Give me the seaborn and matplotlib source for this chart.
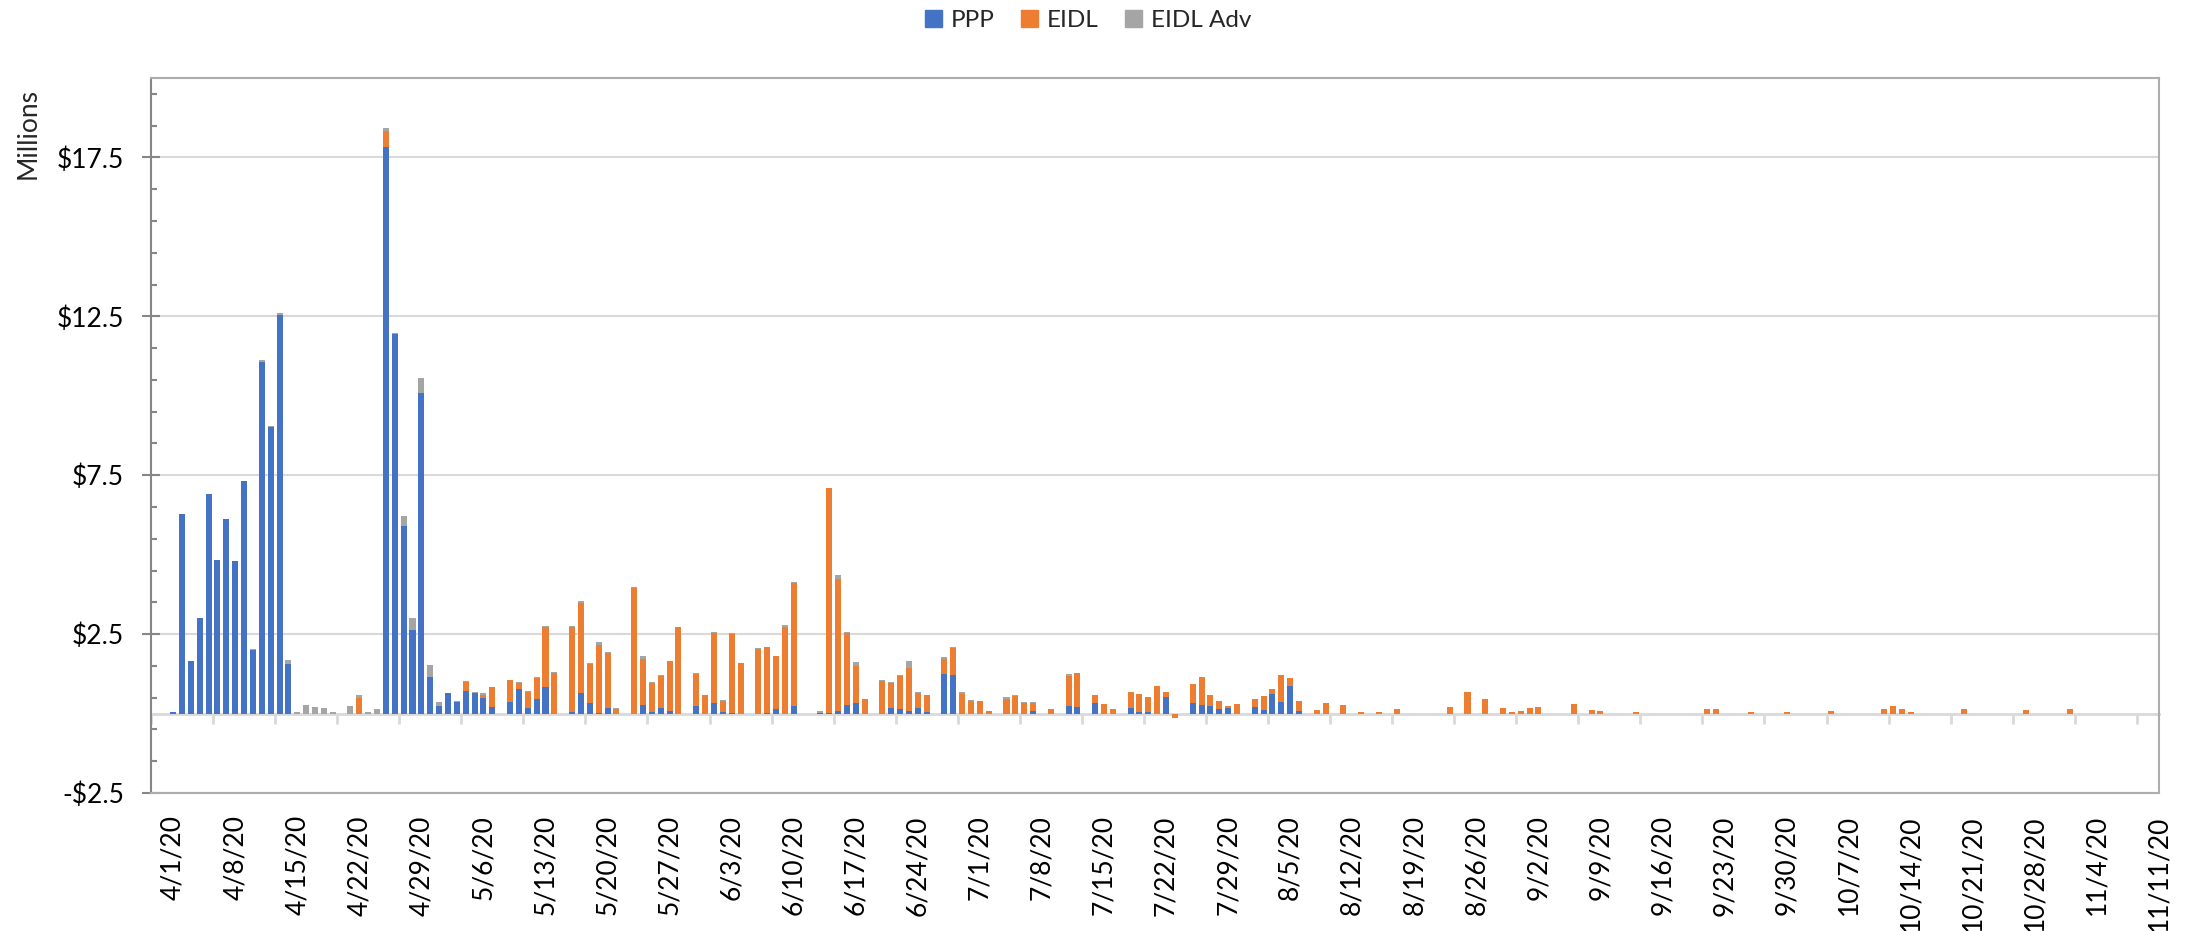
import matplotlib
matplotlib.use("Agg")

import matplotlib.pyplot as plt
from matplotlib.patches import Patch
from matplotlib.ticker import FixedLocator, FuncFormatter
import seaborn as sns

import pandas as pd
import numpy as np


# Daily disbursements in $ millions (days that are not listed had nothing)
dates = ["4/1", "4/2", "4/3", "4/4", "4/5", "4/6", "4/7", "4/8", "4/9", "4/10",
         "4/11", "4/12", "4/13", "4/14", "4/15", "4/16", "4/17", "4/18", "4/19", "4/21",
         "4/22", "4/23", "4/24", "4/25", "4/26", "4/27", "4/28", "4/29", "4/30", "5/1",
         "5/2", "5/3", "5/4", "5/5", "5/6", "5/7", "5/9", "5/10", "5/11", "5/12",
         "5/13", "5/14", "5/16", "5/17", "5/18", "5/19", "5/20", "5/21", "5/23", "5/24",
         "5/25", "5/26", "5/27", "5/28", "5/30", "5/31", "6/1", "6/2", "6/3", "6/4",
         "6/6", "6/7", "6/8", "6/9", "6/10", "6/13", "6/14", "6/15", "6/16", "6/17",
         "6/18", "6/20", "6/21", "6/22", "6/23", "6/24", "6/25", "6/27", "6/28", "6/29",
         "6/30", "7/1", "7/2", "7/4", "7/5", "7/6", "7/7", "7/9", "7/11", "7/12",
         "7/14", "7/15", "7/16", "7/18", "7/19", "7/20", "7/21", "7/22", "7/23", "7/25",
         "7/26", "7/27", "7/28", "7/29", "7/30", "8/1", "8/2", "8/3", "8/4", "8/5",
         "8/6", "8/8", "8/9", "8/11", "8/13", "8/15", "8/17", "8/23", "8/25", "8/27",
         "8/29", "8/30", "8/31", "9/1", "9/2", "9/6", "9/8", "9/9", "9/13", "9/21",
         "9/22", "9/26", "9/30", "10/5", "10/11", "10/12", "10/13", "10/14", "10/20", "10/27",
         "11/1"]

ppp = [0.05, 6.27, 1.67, 3.00, 6.92, 4.82, 6.11, 4.80, 7.33, 2.01,
       11.06, 9.02, 12.53, 1.55, 0, 0, 0, 0, 0, 0,
       0, 0, 0, 17.82, 11.93, 5.89, 2.64, 10.09, 1.14, 0.23,
       0.66, 0.36, 0.70, 0.64, 0.49, 0.20, 0.38, 0.77, 0.17, 0.45,
       0.83, 0, 0.06, 0.66, 0.32, 0.03, 0.16, 0, 0, 0.28,
       0.06, 0.16, 0.09, 0, 0.25, 0, 0.32, 0.06, 0.03, 0,
       0, 0.03, 0.13, 0, 0.25, 0.03, 0.03, 0.09, 0.28, 0.32,
       0, 0, 0.19, 0.13, 0.09, 0.16, 0.06, 1.26, 1.21, 0,
       0, 0, 0, 0, 0, 0, 0.08, 0, 0.24, 0.21,
       0.33, 0, 0, 0.18, 0.05, 0.04, 0, 0.52, 0, 0.33,
       0.27, 0.24, 0.15, 0.18, 0, 0.21, 0.11, 0.61, 0.36, 0.86,
       0.08, 0, 0, 0, 0, 0, 0, 0, 0, 0,
       0, 0, 0, 0, 0, 0, 0, 0, 0, 0,
       0, 0, 0, 0, 0, 0, 0, 0, 0, 0,
       0]

eidl = [0, 0, 0, 0, 0, 0, 0, 0, 0, 0,
        0, 0, 0, 0, 0, 0, 0, 0, 0, 0,
        0.48, 0, 0, 0.51, 0, 0, 0, 0, 0, 0,
        0, 0, 0.28, 0, 0.10, 0.63, 0.67, 0.19, 0.51, 0.66,
        1.90, 1.28, 2.68, 2.83, 1.23, 2.14, 1.76, 0.14, 3.94, 1.45,
        0.90, 1.01, 1.55, 2.71, 0.98, 0.57, 2.23, 0.35, 2.46, 1.58,
        2.02, 2.05, 1.67, 2.71, 3.85, 0, 7.08, 4.16, 2.24, 1.19,
        0.47, 1.01, 0.76, 1.04, 1.33, 0.50, 0.51, 0.47, 0.84, 0.61,
        0.40, 0.40, 0.08, 0.46, 0.55, 0.33, 0.25, 0.15, 0.94, 1.06,
        0.25, 0.30, 0.15, 0.50, 0.56, 0.48, 0.86, 0.16, -0.14, 0.60,
        0.88, 0.34, 0.25, 0.06, 0.30, 0.25, 0.44, 0.16, 0.85, 0.25,
        0.32, 0.11, 0.33, 0.27, 0.05, 0.05, 0.15, 0.21, 0.68, 0.46,
        0.18, 0.05, 0.08, 0.18, 0.21, 0.30, 0.11, 0.08, 0.05, 0.15,
        0.15, 0.05, 0.05, 0.08, 0.15, 0.24, 0.15, 0.05, 0.15, 0.11,
        0.15]

eidl_adv = [0, 0, 0, 0, 0, 0, 0, 0, 0, 0.03,
            0.08, 0.04, 0.08, 0.14, 0.06, 0.28, 0.22, 0.19, 0.06, 0.25,
            0.11, 0.06, 0.13, 0.11, 0.06, 0.34, 0.37, 0.46, 0.38, 0.13,
            0, 0.04, 0.04, 0.04, 0.05, 0, 0, 0.04, 0.04, 0.04,
            0.04, 0.02, 0.03, 0.04, 0.04, 0.07, 0.03, 0.03, 0.03, 0.07,
            0.03, 0.03, 0, 0, 0.06, 0, 0.03, 0.03, 0.03, 0,
            0.03, 0, 0, 0.09, 0.03, 0.06, 0, 0.10, 0.06, 0.10,
            0, 0.06, 0.03, 0.03, 0.25, 0.03, 0, 0.06, 0.03, 0.07,
            0.03, 0, 0, 0.06, 0.03, 0.03, 0.03, 0, 0.06, 0,
            0, 0, 0, 0, 0, 0, 0, 0, 0, 0,
            0, 0, 0, 0, 0, 0, 0, 0, 0, 0,
            0, 0, 0, 0, 0, 0, 0, 0, 0, 0,
            0, 0, 0, 0, 0, 0, 0, 0, 0, 0,
            0, 0, 0, 0, 0, 0, 0, 0, 0, 0,
            0]

# Excel office palette
PPP_COLOR = "#4472C4"
EIDL_COLOR = "#ED7D31"
ADV_COLOR = "#A5A5A5"
GRID_COLOR = "#D9D9D9"
AXIS_COLOR = "#868686"
FRAME_COLOR = "#ADADAD"

START = pd.Timestamp("2020-04-01")
END = pd.Timestamp("2020-11-10")


def build_daily():
    """
    Builds one row per calendar day, with the cumulative stack heights.
    """
    data = pd.DataFrame({"date": pd.to_datetime([d + "/2020" for d in dates], format="%m/%d/%Y"),
                         "ppp": ppp, "eidl": eidl, "adv": eidl_adv}).set_index("date")
    daily = data.reindex(pd.date_range(START, END, freq="D"), fill_value=0.0)
    daily["day"] = (daily.index - START).days
    daily["ppp_eidl"] = daily["ppp"] + daily["eidl"]
    daily["total"] = daily["ppp_eidl"] + daily["adv"]
    return daily.reset_index(drop=True)


def money(v, pos):
    return "-${:g}".format(abs(v)) if v < 0 else "${:g}".format(v)


def main():
    sns.set_theme(style="white")
    plt.rcParams["font.family"] = ["Lato", "DejaVu Sans"]

    daily = build_daily()

    fig = plt.figure(figsize=(21.85, 9.31), dpi=100)
    ax = fig.add_axes([0.0691, 0.1482, 0.9190, 0.7680])

    # stacked bars: draw the running totals from the tallest down
    for col, color in [("total", ADV_COLOR), ("ppp_eidl", EIDL_COLOR), ("ppp", PPP_COLOR)]:
        sns.barplot(data=daily, x="day", y=col, color=color, native_scale=True, width=0.68,
                    saturation=1, errorbar=None, linewidth=0, edgecolor="none", ax=ax)

    ax.set_xlabel("")
    ax.set_ylabel("")
    ax.set_xlim(-2.5, 223.5)
    ax.set_ylim(-2.5, 20)

    # y axis
    ax.yaxis.set_major_locator(FixedLocator(np.arange(-2.5, 20, 5)))
    ax.yaxis.set_minor_locator(FixedLocator(np.arange(-2.5, 20, 1)))
    ax.yaxis.set_major_formatter(FuncFormatter(money))
    ax.tick_params(axis="y", which="major", direction="inout", length=13, width=1.5,
                   color=AXIS_COLOR, pad=13, labelsize=19, labelcolor="black", left=True)
    ax.tick_params(axis="y", which="minor", direction="in", length=4.5, width=1.5,
                   color=AXIS_COLOR, left=True)
    ax.yaxis.grid(True, which="major", color=GRID_COLOR, linewidth=1.5)
    ax.xaxis.grid(False)
    ax.set_axisbelow(True)

    # x labels: one per week
    label_days = np.arange(0, 225, 7)
    label_text = []
    for d in label_days:
        day = START + pd.Timedelta(days=int(d))
        label_text.append("{}/{}/{:%y}".format(day.month, day.day, day))
    ax.set_xticks(label_days)
    ax.set_xticklabels(label_text, rotation=90)
    ax.tick_params(axis="x", which="major", length=0, pad=16, labelsize=19, labelcolor="black")

    for side in ["top", "right", "bottom"]:
        ax.spines[side].set_color(FRAME_COLOR)
        ax.spines[side].set_linewidth(1.5)
    ax.spines["left"].set_color(AXIS_COLOR)
    ax.spines["left"].set_linewidth(1.5)

    # category axis line at zero, with the week boundary ticks
    zero_axis = ax.secondary_xaxis(2.5 / 22.5)
    zero_axis.set_xticks(np.arange(-2.5, 224, 7))
    zero_axis.tick_params(axis="x", direction="out", length=7, width=2, color=GRID_COLOR,
                          labelbottom=False, labeltop=False)
    zero_axis.spines["bottom"].set_color(GRID_COLOR)
    zero_axis.spines["bottom"].set_linewidth(2)

    fig.text(0.0128, 0.857, "Millions", rotation=90, ha="center", va="center", fontsize=19)

    handles = [Patch(color=PPP_COLOR, label="PPP"),
               Patch(color=EIDL_COLOR, label="EIDL"),
               Patch(color=ADV_COLOR, label="EIDL Adv")]
    fig.legend(handles=handles, loc="center", bbox_to_anchor=(0.498, 0.978), ncol=3, frameon=False,
               fontsize=17.5, handlelength=0.7, handleheight=0.7, handletextpad=0.35,
               columnspacing=1.1)

    fig.savefig("out.png", dpi=100)
    return


if __name__ == "__main__":
    main()
